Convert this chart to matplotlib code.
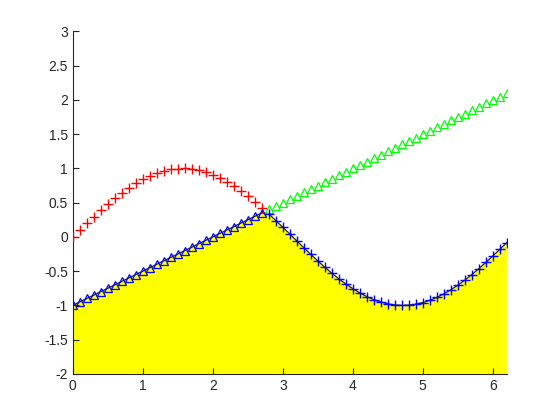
import numpy as np
import matplotlib.pyplot as plt

plt.rcParams['font.family'] = ['Liberation Sans', 'DejaVu Sans']

# sample points (0:0.1:6.2)
x = np.arange(0, 63) / 10.0
curve = np.sin(x)
ramp = 0.5 * x - 1
split = 28  # first index where the ramp is above the curve

xticks = [0, 1, 2, 3, 4, 5, 6]
yticks = [-2, -1.5, -1, -0.5, 0, 0.5, 1, 1.5, 2, 2.5, 3]
yticklabels = ['-2', '-1.5', '-1', '-0.5', '0', '0.5', '1', '1.5', '2', '2.5', '3']

fig = plt.figure(figsize=(5.6, 4.2), dpi=100)
ax = fig.add_axes([0.13, 0.11, 0.775, 0.815])

lower = np.minimum(curve, ramp)
ax.fill_between(x, lower, -2, facecolor='#ffff00', edgecolor='none', zorder=1)
ax.plot(x, lower, color='#222222', lw=0.9, zorder=2)

plus = dict(linestyle='none', marker='+', markersize=7.5, markeredgewidth=1.0, zorder=3)
tri = dict(linestyle='none', marker='^', markersize=6, markeredgewidth=0.9,
           markerfacecolor='none', zorder=3)
ax.plot(x[:split], curve[:split], color='#ff0000', **plus)
ax.plot(x[split:], ramp[split:], color='#00ff00', **tri)
ax.plot(x[:split], ramp[:split], color='#0000ff', **tri)
ax.plot(x[split:], curve[split:], color='#0000ff', **plus)

ax.set_xlim(0, 6.2)
ax.set_ylim(-2, 3)
ax.set_xticks(xticks)
ax.set_yticks(yticks)
ax.set_yticklabels(yticklabels)
for s in ['top', 'right']:
    ax.spines[s].set_visible(False)
for s in ['left', 'bottom']:
    ax.spines[s].set_color('#262626')
    ax.spines[s].set_linewidth(0.8)
ax.tick_params(direction='in', length=4, width=0.8, colors='#262626', labelsize=10)

fig.savefig('out.png', dpi=100)
